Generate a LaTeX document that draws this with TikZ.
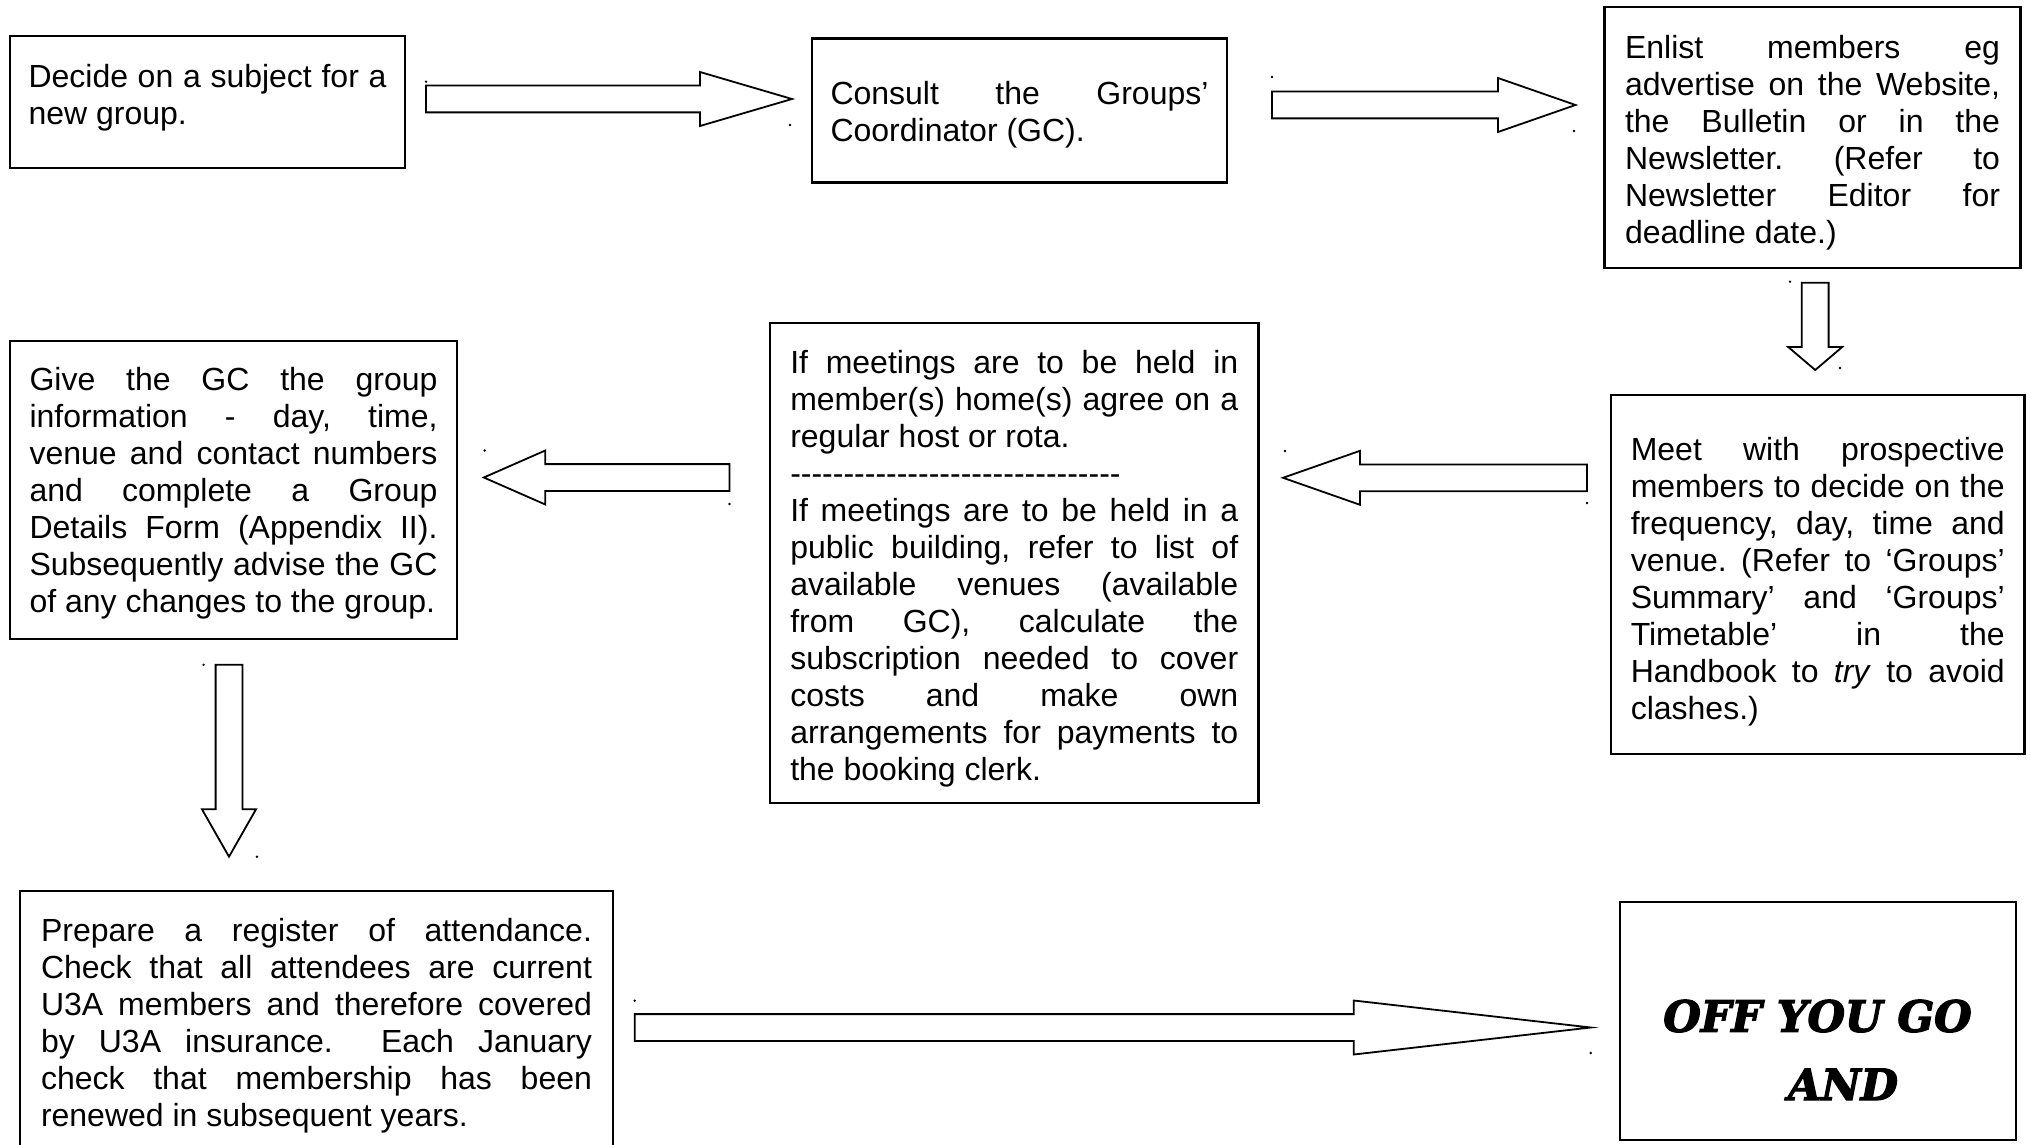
\documentclass[tikz,border=0pt]{standalone}
\usepackage{fontspec}
\setmainfont{Liberation Sans}
\newfontfamily\gofont{DejaVu Serif}[UprightFont=* Bold Italic, FakeBold=3]
\usetikzlibrary{calc}
\tolerance=10000
\hbadness=10000
\frenchspacing

% hollow block arrow from #1 to #2, head length #3
\newcommand{\blockarrow}[3]{%
  \coordinate (hb) at ($(#2)!#3pt!(#1)$);
  \draw[blockarrow] ($(#1)!13.4pt!90:(#2)$) -- ($(hb)!13.4pt!-90:(#1)$)
    -- ($(hb)!27pt!-90:(#1)$) -- (#2) -- ($(hb)!27pt!90:(#1)$)
    -- ($(hb)!13.4pt!90:(#1)$) -- ($(#1)!13.4pt!-90:(#2)$) -- cycle;}

\begin{document}
\begin{tikzpicture}[x=1pt, y=-1pt,
    stepbox/.style={draw, line width=2.4pt, align=justify, inner ysep=4pt,
      font=\fontsize{32}{37}\selectfont},
    nudge/.style={execute at begin node={\rule{0pt}{#1}}},
    lift/.style={execute at end node={\rule[-#1]{0pt}{0pt}}},
    blockarrow/.style={draw, line width=1.8pt, fill=white, line join=miter},
    gotext/.style={font=\gofont\fontsize{43}{48}\selectfont, inner sep=0pt}]
\useasboundingbox (0,0) rectangle (2031,1145);
\clip (0,0) rectangle (2031,1145);

% steps
\node[stepbox, lift=14.7pt, text width=358pt, inner xsep=18.5pt, minimum height=132pt] (decide) at (207.5,102)
  {Decide on a subject for a\linebreak new group.};
\node[stepbox, nudge=30.8pt, text width=378pt, inner xsep=18.5pt, minimum height=144pt] (consult) at (1019.5,110.5)
  {Consult the Groups’\linebreak Coordinator (GC).};
\node[stepbox, nudge=33.4pt, text width=375pt, inner xsep=20.5pt, minimum height=261pt] (enlist) at (1812.5,137.5)
  {Enlist members eg\linebreak advertise on the Website,\linebreak the Bulletin or in the\linebreak
   Newsletter. (Refer to\linebreak Newsletter Editor for\linebreak deadline date.)};
\node[stepbox, nudge=38.4pt, text width=374pt, inner xsep=19.75pt, minimum height=359pt] (meet) at (1817.75,574.5)
  {Meet with prospective\linebreak members to decide on the\linebreak frequency, day, time and\linebreak
   venue. (Refer to ‘Groups’\linebreak Summary’ and ‘Groups’\linebreak Timetable’ in the\linebreak
   Handbook to \textit{try} to avoid\linebreak clashes.)};
\node[stepbox, nudge=34.4pt, text width=448pt, inner xsep=20.25pt, minimum height=480pt] (venues) at (1014.25,563)
  {If meetings are to be held in\linebreak member(s) home(s) agree on a\linebreak regular host or rota.\par
   \foreach \i in {1,...,31}{\mbox{-}}\par
   If meetings are to be held in a\linebreak public building, refer to list of\linebreak
   available venues (available\linebreak from GC), calculate the\linebreak
   subscription needed to cover\linebreak costs and make own\linebreak
   arrangements for payments to\linebreak the booking clerk.};
\node[stepbox, nudge=30.6pt, text width=408pt, inner xsep=19.5pt, minimum height=298pt] (inform) at (233.5,490)
  {Give the GC the group\linebreak information - day, time,\linebreak venue and contact numbers\linebreak
   and complete a Group\linebreak Details Form (Appendix II).\linebreak
   Subsequently advise the GC\linebreak of any changes to the group.};
\node[stepbox, nudge=29.4pt, text width=551pt, inner xsep=21pt, minimum height=264pt] (register) at (316.5,1023)
  {Prepare a register of attendance.\linebreak Check that all attendees are current\linebreak
   U3A members and therefore covered\linebreak by U3A insurance.\ \ Each January\linebreak
   check that membership has been\linebreak renewed in subsequent years.};
\node[stepbox, inner sep=0pt, minimum width=396pt, minimum height=238pt] (go) at (1818,1021) {};
\node[gotext, anchor=base] (off) at (1817.5,1031.7) {OFF YOU GO};
\node[gotext, anchor=base] (andtext) at (1843,1100) {AND};

% block arrows
\coordinate (a1s) at (426,99);      \coordinate (a1e) at (792,99);
\coordinate (a2s) at (1272,105);    \coordinate (a2e) at (1575.5,105);
\coordinate (a3s) at (1815.2,282.7); \coordinate (a3e) at (1815.2,370);
\coordinate (a4s) at (1587,477.8);  \coordinate (a4e) at (1283,477.8);
\coordinate (a5s) at (729.5,477.5); \coordinate (a5e) at (483.8,477.5);
\coordinate (a6s) at (229,664.8);   \coordinate (a6e) at (229,856.7);
\coordinate (a7s) at (634.7,1027.5); \coordinate (a7e) at (1590.7,1027.5);
\blockarrow{a1s}{a1e}{92}
\blockarrow{a2s}{a2e}{77.5}
\blockarrow{a3s}{a3e}{23}
\blockarrow{a4s}{a4e}{77}
\blockarrow{a5s}{a5e}{61.5}
\blockarrow{a6s}{a6e}{47.4}
\blockarrow{a7s}{a7e}{237}

% anchor dots
\foreach \p in {(426,81.7),(790,125),(1272,77),(1574,131),(1790,281.7),(1840,368),
    (1285,451),(1587,503),(484.7,450.5),(729.5,504),(203.6,664.8),(257,856.7),
    (634.7,1000.7),(1590.7,1053)}
  \fill \p circle (1.3);
\end{tikzpicture}
\end{document}
